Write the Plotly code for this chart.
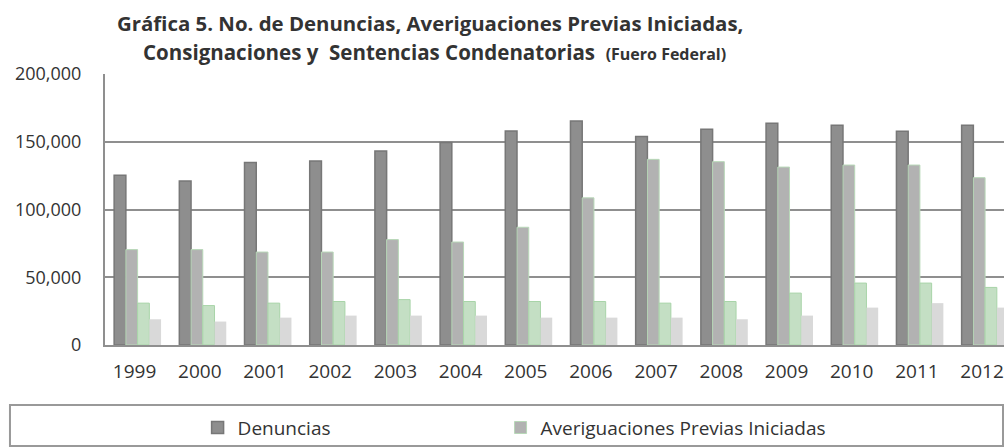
import plotly.graph_objects as go

# Data
years = ["1999", "2000", "2001", "2002", "2003", "2004", "2005",
         "2006", "2007", "2008", "2009", "2010", "2011", "2012"]
denuncias = [125200, 121000, 134600, 135800, 143200, 149400, 158000,
             165400, 153800, 159300, 163700, 162200, 157800, 162200]
averiguaciones = [70400, 70400, 68600, 68600, 77800, 76000, 86900,
                  108600, 137000, 135300, 131300, 132800, 132800, 123500]
consignaciones = [30900, 29100, 30900, 32100, 33500, 32100, 32100,
                  32100, 30900, 32100, 38300, 45700, 45700, 42500]
sentencias = [19000, 17300, 20200, 21700, 21700, 21700, 20200,
              20200, 20200, 19000, 21700, 27600, 30900, 27600]

FONT = "Open Sans"
TXT = "#333333"

fig = go.Figure()

fig.add_trace(go.Bar(
    x=years, y=denuncias, name="Denuncias",
    marker=dict(color="#8e8e8e", line=dict(color="#777777", width=1.5)),
    legend="legend",
))
fig.add_trace(go.Bar(
    x=years, y=averiguaciones, name="Averiguaciones Previas Iniciadas",
    marker=dict(color="#b2b2b2", line=dict(color="#b8d8b8", width=1)),
    legend="legend2",
))
fig.add_trace(go.Bar(
    x=years, y=consignaciones, name="Consignaciones",
    marker=dict(color="#c4dfc4", line=dict(color="#a8d4a8", width=1)),
    showlegend=False,
))
fig.add_trace(go.Bar(
    x=years, y=sentencias, name="Sentencias Condenatorias",
    marker=dict(color="#d9d9d9", line=dict(color="#d9d9d9", width=0)),
    showlegend=False,
))

# title lines
fig.add_annotation(
    text="<b>Gráfica 5. No. de Denuncias, Averiguaciones Previas Iniciadas,</b>",
    xref="paper", yref="paper", x=0.3615, y=1.188,
    xanchor="center", yanchor="middle", showarrow=False, borderpad=0,
    font=dict(family=FONT, size=20.4, color=TXT),
)
fig.add_annotation(
    text="<b>Consignaciones y  Sentencias Condenatorias</b>  "
         "<b><span style='font-size:16px'>(Fuero Federal)</span></b>",
    xref="paper", yref="paper", x=0.367, y=1.083,
    xanchor="center", yanchor="middle", showarrow=False, borderpad=0,
    font=dict(family=FONT, size=20.5, color=TXT),
)

# legend frame
fig.add_shape(
    type="rect", xref="paper", yref="paper",
    x0=-0.1057, x1=0.9989, y0=-0.3727, y1=-0.2214,
    line=dict(color="#999999", width=2), fillcolor="rgba(0,0,0,0)",
)

legend_style = dict(
    orientation="h", y=-0.305, xanchor="left", yanchor="middle",
    font=dict(family=FONT, size=19, color=TXT),
    bgcolor="rgba(0,0,0,0)",
)

fig.update_layout(
    width=1004, height=447,
    margin=dict(l=105, r=0, t=74, b=102),
    paper_bgcolor="white", plot_bgcolor="white",
    barmode="group", bargap=0.28, bargroupgap=0,
    font=dict(family=FONT, color=TXT),
    legend=dict(x=0.103, **legend_style),
    legend2=dict(x=0.440, **legend_style),
)

fig.update_xaxes(
    range=[-0.5, 13.29],
    showgrid=False, showline=True, linecolor="#8f8f8f", linewidth=2,
    ticks="", tickfont=dict(family=FONT, size=19, color=TXT),
    ticklabelstandoff=8, ticklabelshift=-3,
)
fig.update_yaxes(
    range=[0, 200000], tickvals=[0, 50000, 100000, 150000, 200000],
    ticktext=["0", "50,000", "100,000", "150,000", "200,000"],
    showgrid=True, gridcolor="#8f8f8f", gridwidth=2,
    showline=True, linecolor="#8f8f8f", linewidth=2,
    zeroline=False, ticks="",
    tickfont=dict(family=FONT, size=18, color=TXT),
    ticklabelstandoff=18,
)

# drop the default page margin so the figure fills the window exactly
fig.write_html(
    "out.html",
    config={"displayModeBar": False},
    post_script="document.body.style.margin='0';"
                "document.body.style.overflow='hidden';",
)
